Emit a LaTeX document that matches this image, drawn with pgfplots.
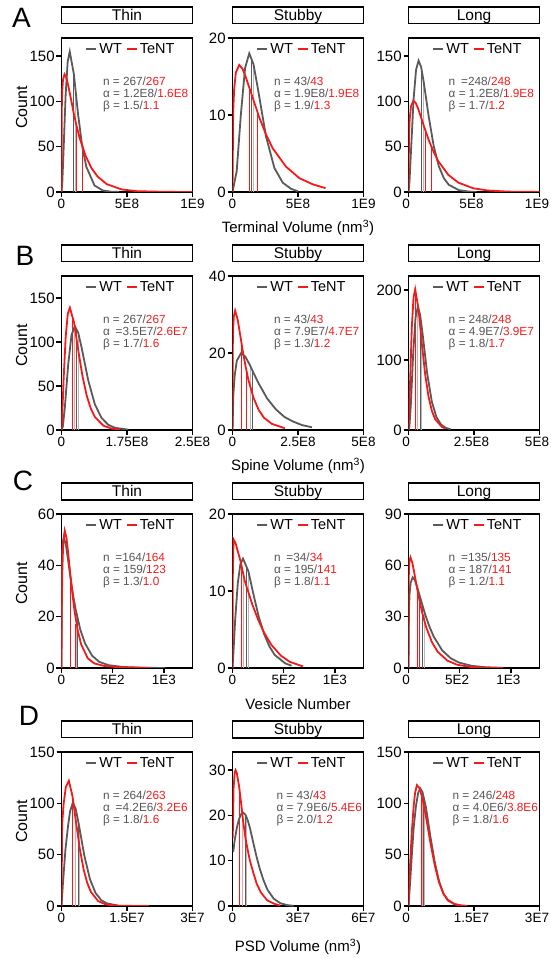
\documentclass[border=0pt]{standalone}
\usepackage{fontspec}
\setmainfont{Liberation Sans}
\usepackage{pgfplots}
\pgfplotsset{compat=1.18}

\definecolor{wtgray}{HTML}{5A5A5A}
\definecolor{tnred}{HTML}{F51A1A}
\definecolor{lgray}{HTML}{B8B8B8}
\definecolor{lred}{HTML}{F7A0A0}
\definecolor{anngray}{HTML}{555555}

\tikzset{
  ann/.style={anchor=north west, align=left, inner sep=0pt, text=anngray,
    font=\fontsize{11.8}{11.7}\selectfont},
  letter/.style={font=\fontsize{28}{28}\selectfont, inner sep=0pt},
}

\pgfplotsset{
  panel/.style={
    scale only axis, width=131pt, height=154pt, anchor=south west,
    xmin=0, ymin=0, enlargelimits=false,
    line width=1.8pt,
    axis line style={line width=1.8pt, black},
    tick align=outside, xtick pos=bottom, ytick pos=left,
    major tick length=5pt,
    tick style={black, line width=1.5pt},
    yticklabel style={inner sep=1pt, font=\fontsize{15}{15}\selectfont},
    xticklabel style={inner sep=1.5pt, font=\fontsize{13.5}{14}\selectfont},
    /pgf/number format/assume math mode=true,
    title style={draw, line width=1.6pt, minimum width=131pt, minimum height=16.5pt,
      inner sep=0pt, text height=11pt, text depth=1pt, anchor=south, at={(0.5,1)},
      yshift=7.5pt, font=\fontsize{15.5}{15.5}\selectfont},
    legend style={at={(0.53,0.985)}, anchor=north, draw=none, fill=none, inner sep=0pt,
      font=\fontsize{14.5}{15}\selectfont,
      /tikz/every even column/.append style={column sep=2pt}},
    legend columns=2,
    legend image code/.code={\draw[#1, line width=2pt] (0pt,0pt) -- (10pt,0pt);},
    label style={font=\fontsize{15}{16}\selectfont},
    xlabel style={at={(axis description cs:0.5,0)}, anchor=center, yshift=-36pt},
    ylabel style={at={(axis description cs:-0.305,0.55)}, anchor=center,
      font=\fontsize{16}{16}\selectfont},
  },
  right panel/.style={xticklabel style={xshift=-2.5pt}},
  wt/.style={wtgray, line width=1.8pt},
  tn/.style={tnred, line width=1.8pt},
  vl/.style={line width=1pt, forget plot},
}

\begin{document}
\begin{tikzpicture}
\useasboundingbox (0,0) rectangle (550pt,958pt);

\node[letter] at (21.5pt,940pt) {A};
\node[letter] at (25pt,702pt) {B};
\node[letter] at (23pt,477pt) {C};
\node[letter] at (29pt,242pt) {D};

% ---------------- row A: terminal volume ----------------
\begin{axis}[panel, at={(61.5pt,766pt)}, title={Thin}, ylabel={Count},
  xmax=10, ymax=170, xtick={0,5,10}, xticklabels={0,5E8,1E9}, ytick={0,50,100,150}]
\addplot[vl, wtgray] coordinates {(0.94,0)(0.94,130)};
\addplot[vl, lgray] coordinates {(1.04,0)(1.04,117)};
\addplot[vl, tnred] coordinates {(1.14,0)(1.14,74)};
\addplot[vl, tnred] coordinates {(1.62,0)(1.62,50)};
\addplot[wt] coordinates {(0,0)(0.063,10.8)(0.158,46)(0.315,107)(0.473,144)(0.63,155)(0.945,130)(1.26,86.5)(1.575,51)(1.89,28)(2.52,7.2)(3.15,1.7)(3.78,0.35)(4.4,0)};
\addlegendentry{WT}
\addplot[tn] coordinates {(0,0)(0.023,93)(0.058,112)(0.115,124)(0.23,130)(0.345,127)(0.46,121)(0.69,105)(0.92,88)(1.15,73)(1.38,60)(1.84,40)(2.3,26)(2.76,17)(3.45,8.7)(4.6,2.8)(5.75,0.9)(8,0.15)(10,0)};
\addlegendentry{TeNT}
\node[ann] at (rel axis cs:0.31,0.75) {n = 267/{\color{tnred}267}\\α = 1.2E8/{\color{tnred}1.6E8}\\β = 1.5/{\color{tnred}1.1}};
\end{axis}

\begin{axis}[panel, at={(232.5pt,766pt)}, title={Stubby}, xlabel={Terminal Volume (nm\textsuperscript{3})},
  xmax=10, ymax=20, xtick={0,5,10}, xticklabels={0,5E8,1E9}, ytick={0,10,20}]
\addplot[vl, tnred] coordinates {(1.28,0)(1.28,13.6)};
\addplot[vl, wtgray] coordinates {(1.44,0)(1.44,17.3)};
\addplot[vl, lgray] coordinates {(1.62,0)(1.62,16.5)};
\addplot[vl, tnred] coordinates {(1.87,0)(1.87,10.6)};
\addplot[wt] coordinates {(0,0)(0.32,2.7)(0.64,10.1)(0.96,16.1)(1.28,18)(1.6,16.6)(1.92,13.6)(2.56,7.2)(3.2,3.1)(3.84,1.2)(4.48,0.4)(5.0,0.1)};
\addlegendentry{WT}
\addplot[tn] coordinates {(0,0)(0.051,10.4)(0.128,13.4)(0.255,15.5)(0.51,16.5)(0.765,16)(1.02,14.9)(1.53,12.3)(2.04,9.7)(2.55,7.5)(3.06,5.7)(4.08,3.3)(5.1,1.8)(6.12,1.0)(7.1,0.5)};
\addlegendentry{TeNT}
\node[ann] at (rel axis cs:0.31,0.75) {n = 43/{\color{tnred}43}\\α = 1.9E8/{\color{tnred}1.9E8}\\β = 1.9/{\color{tnred}1.3}};
\end{axis}

\begin{axis}[panel, right panel, at={(408.5pt,766pt)}, title={Long},
  xmax=10, ymax=170, xtick={0,5,10}, xticklabels={0,5E8,1E9}, ytick={0,50,100,150}]
\addplot[vl, wtgray] coordinates {(0.97,0)(0.97,137)};
\addplot[vl, lgray] coordinates {(1.15,0)(1.15,122)};
\addplot[vl, tnred] coordinates {(1.31,0)(1.31,67)};
\addplot[vl, tnred] coordinates {(1.79,0)(1.79,48.7)};
\addplot[wt] coordinates {(0,0)(0.077,11.6)(0.193,46)(0.385,102)(0.578,135)(0.77,145)(0.963,138)(1.155,122)(1.54,83.5)(1.925,50.7)(2.31,28.6)(2.695,15.3)(3.08,7.9)(3.85,2.0)(4.62,0.45)(5.2,0)};
\addlegendentry{WT}
\addplot[tn] coordinates {(0,0)(0.038,62.7)(0.095,81.3)(0.19,94.6)(0.38,101)(0.57,97.8)(0.76,91)(1.14,74.3)(1.52,58.3)(1.9,44.8)(2.28,33.9)(3.04,18.9)(3.8,10.4)(4.94,4.1)(6.08,1.6)(7.6,0.4)(10,0.05)};
\addlegendentry{TeNT}
\node[ann] at (rel axis cs:0.30,0.75) {n\enspace=248/{\color{tnred}248}\\α = 1.2E8/{\color{tnred}1.9E8}\\β = 1.7/{\color{tnred}1.2}};
\end{axis}

% ---------------- row B: spine volume ----------------
\begin{axis}[panel, at={(61.5pt,528pt)}, title={Thin}, ylabel={Count},
  xmax=10, ymax=175, xtick={0,5,10}, xticklabels={0,1.75E8,2.5E8}, ytick={0,50,100,150}]
\addplot[vl, tnred] coordinates {(0.84,0)(0.84,128)};
\addplot[vl, lred] coordinates {(0.98,0)(0.98,121)};
\addplot[vl, wtgray] coordinates {(1.12,0)(1.12,115)};
\addplot[vl, lgray] coordinates {(1.3,0)(1.3,109)};
\addplot[wt] coordinates {(0,0)(0.102,4.1)(0.255,25.6)(0.51,74.2)(0.765,108)(1.02,118)(1.275,110.6)(1.53,94)(2.04,56.5)(2.55,29)(3.06,13.6)(3.57,5.9)(4.08,2.5)(5.1,0.4)};
\addlegendentry{WT}
\addplot[tn] coordinates {(0,0)(0.064,19.5)(0.16,57)(0.32,106)(0.48,132)(0.64,139)(0.96,122)(1.28,90.5)(1.6,61.4)(1.92,39.3)(2.24,24.2)(2.56,14.5)(3.2,4.9)(3.84,1.6)(4.48,0.5)};
\addlegendentry{TeNT}
\node[ann] at (rel axis cs:0.31,0.75) {n = 267/{\color{tnred}267}\\α\enspace=3.5E7/{\color{tnred}2.6E7}\\β = 1.7/{\color{tnred}1.6}};
\end{axis}

\begin{axis}[panel, at={(232.5pt,528pt)}, title={Stubby}, xlabel={Spine Volume (nm\textsuperscript{3})},
  xmax=10, ymax=40, xtick={0,5,10}, xticklabels={0,2.5E8,5E8}, ytick={0,20,40}]
\addplot[vl, tnred] coordinates {(0.72,0)(0.72,21.9)};
\addplot[vl, tnred] coordinates {(1.1,0)(1.1,14.8)};
\addplot[vl, lgray] coordinates {(1.41,0)(1.41,16.3)};
\addplot[vl, wtgray] coordinates {(1.56,0)(1.56,15.2)};
\addplot[wt] coordinates {(0,0)(0.066,9.2)(0.165,14.1)(0.33,18)(0.66,20)(0.99,19)(1.32,16.9)(1.65,14.5)(1.98,12.2)(2.64,8.2)(3.3,5.4)(3.96,3.4)(4.62,2.2)(5.28,1.3)(6.07,0.7)};
\addlegendentry{WT}
\addplot[tn] coordinates {(0,0)(0.02,21.4)(0.05,26.2)(0.1,29.5)(0.2,31)(0.4,28.6)(0.6,24.4)(0.8,20.2)(1.0,16.5)(1.2,13.2)(1.6,8.4)(2.0,5.2)(2.4,3.2)(3.0,1.6)(4.0,0.45)};
\addlegendentry{TeNT}
\node[ann] at (rel axis cs:0.31,0.75) {n = 43/{\color{tnred}43}\\α = 7.9E7/{\color{tnred}4.7E7}\\β = 1.3/{\color{tnred}1.2}};
\end{axis}

\begin{axis}[panel, right panel, at={(408.5pt,528pt)}, title={Long},
  xmax=10, ymax=220, xtick={0,5,10}, xticklabels={0,2.5E8,5E8}, ytick={0,100,200}]
\addplot[vl, tnred] coordinates {(0.53,0)(0.53,200)};
\addplot[vl, lred] coordinates {(0.69,0)(0.69,181)};
\addplot[vl, wtgray] coordinates {(0.89,0)(0.89,164)};
\addplot[vl, lgray] coordinates {(1.02,0)(1.02,145)};
\addplot[wt] coordinates {(0,0)(0.071,5.3)(0.178,35.9)(0.355,108.6)(0.533,160)(0.71,176)(0.888,164.5)(1.065,139)(1.42,81.7)(1.775,40.9)(2.13,18.5)(2.485,7.8)(2.84,3.1)(3.2,1.2)};
\addlegendentry{WT}
\addplot[tn] coordinates {(0,0)(0.051,21.3)(0.128,72.6)(0.255,147.6)(0.383,189)(0.51,201)(0.765,172.8)(1.02,123)(1.275,79)(1.53,47.5)(1.785,27.3)(2.04,15.2)(2.55,4.4)(2.8,2.3)};
\addlegendentry{TeNT}
\node[ann] at (rel axis cs:0.30,0.75) {n = 248/{\color{tnred}248}\\α = 4.9E7/{\color{tnred}3.9E7}\\β = 1.8/{\color{tnred}1.7}};
\end{axis}

% ---------------- row C: vesicle number ----------------
\begin{axis}[panel, at={(61.5pt,290pt)}, title={Thin}, ylabel={Count},
  xmax=1280, ymax=60, xtick={0,500,1000}, xticklabels={0,5E2,1E3}, ytick={0,20,40,60}]
\addplot[vl, tnred] coordinates {(90,0)(90,34.8)};
\addplot[vl, tnred] coordinates {(139,0)(139,17.3)};
\addplot[vl, lgray] coordinates {(145,0)(145,21.5)};
\addplot[vl, wtgray] coordinates {(152,0)(152,20.4)};
\addplot[wt] coordinates {(0,0)(2.3,35.9)(5.75,43.5)(11.5,48.6)(23,51)(46,47.2)(69,40.7)(92,34.1)(115,28)(138,22.9)(184,14.9)(230,9.6)(299,4.8)(368,2.4)(460,1.1)(598,0.4)(800,0.1)(1016,0)};
\addlegendentry{WT}
\addplot[tn] coordinates {(0,0)(3.2,24.7)(8,37.7)(16,48.1)(32,53.5)(48,50.8)(64,45.2)(96,32.6)(128,22)(160,14.4)(192,9.2)(256,3.8)(320,1.8)(416,0.8)(550,0.3)(855,0.05)};
\addlegendentry{TeNT}
\node[ann] at (rel axis cs:0.31,0.75) {n\enspace=164/{\color{tnred}164}\\α = 159/{\color{tnred}123}\\β = 1.3/{\color{tnred}1.0}};
\end{axis}

\begin{axis}[panel, at={(232.5pt,290pt)}, title={Stubby}, xlabel={Vesicle Number},
  xmax=1280, ymax=20, xtick={0,500,1000}, xticklabels={0,5E2,1E3}, ytick={0,10,20}]
\addplot[vl, tnred] coordinates {(86,0)(86,13.4)};
\addplot[vl, lred] coordinates {(109,0)(109,12)};
\addplot[vl, wtgray] coordinates {(132,0)(132,13.4)};
\addplot[vl, lgray] coordinates {(159,0)(159,12.4)};
\addplot[wt] coordinates {(0,0)(10.3,2.3)(25.8,6.2)(51.5,11.0)(77,13.5)(103,14.2)(154.5,12.6)(206,9.5)(257.5,6.6)(309,4.4)(360.5,2.8)(412,1.7)(515,0.6)(577,0.3)};
\addlegendentry{WT}
\addplot[tn] coordinates {(0,0)(3,12)(10,16.7)(30,16.2)(76,14)(120,11.3)(192,8.3)(250,6.3)(308,4.6)(380,3.0)(473,1.6)(560,0.8)(689,0.2)};
\addlegendentry{TeNT}
\node[ann] at (rel axis cs:0.31,0.75) {n\enspace=34/{\color{tnred}34}\\α = 195/{\color{tnred}141}\\β = 1.8/{\color{tnred}1.1}};
\end{axis}

\begin{axis}[panel, right panel, at={(408.5pt,290pt)}, title={Long},
  xmax=1280, ymax=90, xtick={0,500,1000}, xticklabels={0,5E2,1E3}, ytick={0,30,60,90}]
\addplot[vl, tnred] coordinates {(89,0)(89,45)};
\addplot[vl, tnred] coordinates {(111,0)(111,38.6)};
\addplot[vl, wtgray] coordinates {(136,0)(136,36.8)};
\addplot[vl, lgray] coordinates {(161,0)(161,31.7)};
\addplot[wt] coordinates {(0,0)(4.1,33.4)(10.25,43)(20.5,49.7)(41,53)(61.5,51.4)(82,47.9)(123,39.4)(164,31.1)(205,24.1)(246,18.4)(328,10.4)(410,5.8)(492,3.2)(615,1.3)(738,0.5)(861,0.2)};
\addlegendentry{WT}
\addplot[tn] coordinates {(0,0)(1.9,51)(4.75,58)(9.5,62.6)(19,64.7)(38,61.4)(57,55.5)(76,49.2)(95,43.1)(133,32.5)(171,24.1)(228,15.2)(285,9.5)(380,4.3)(475,1.9)(608,0.6)(760,0.16)(927,0.05)};
\addlegendentry{TeNT}
\node[ann] at (rel axis cs:0.30,0.75) {n\enspace=135/{\color{tnred}135}\\α = 187/{\color{tnred}141}\\β = 1.2/{\color{tnred}1.1}};
\end{axis}

% ---------------- row D: PSD volume ----------------
\begin{axis}[panel, at={(61.5pt,52pt)}, title={Thin}, ylabel={Count},
  xmax=30, ymax=150, xtick={0,15,30}, xticklabels={0,1.5E7,3E7}, ytick={0,50,100,150}]
\addplot[vl, tnred] coordinates {(2.6,0)(2.6,105)};
\addplot[vl, lred] coordinates {(3.2,0)(3.2,85.6)};
\addplot[vl, wtgray] coordinates {(3.8,0)(3.8,83)};
\addplot[vl, lgray] coordinates {(4.2,0)(4.2,73.8)};
\addplot[wt] coordinates {(0,0)(0.3,20)(0.9,55)(1.5,78)(1.95,92)(2.6,100.6)(3.25,94.6)(3.9,81)(5.2,49.7)(6.5,26.3)(7.8,12.7)(9.1,5.7)(10.4,2.5)(13,0.4)};
\addlegendentry{WT}
\addplot[tn] coordinates {(0,0)(0.15,80)(0.5,100)(1.0,116)(1.68,122)(2.52,107)(3.36,80.6)(4.2,55.5)(5.04,36.1)(5.88,22.7)(6.72,13.8)(8.4,4.8)(10.08,1.6)(11.76,0.5)(14,0.15)(20,0)};
\addlegendentry{TeNT}
\node[ann] at (rel axis cs:0.31,0.75) {n = 264/{\color{tnred}263}\\α\enspace=4.2E6/{\color{tnred}3.2E6}\\β = 1.8/{\color{tnred}1.6}};
\end{axis}

\begin{axis}[panel, at={(232.5pt,52pt)}, title={Stubby}, xlabel={PSD Volume (nm\textsuperscript{3})},
  xlabel style={yshift=-5pt},
  xmax=60, ymax=34, xtick={0,30,60}, xticklabels={0,3E7,6E7}, ytick={0,10,20,30}]
\addplot[vl, tnred] coordinates {(3.4,0)(3.4,24.9)};
\addplot[vl, lred] coordinates {(4.6,0)(4.6,19.8)};
\addplot[vl, wtgray] coordinates {(6.0,0)(6.0,20.1)};
\addplot[vl, lgray] coordinates {(6.6,0)(6.6,19.4)};
\addplot[wt] coordinates {(0.3,11.9)(1,14.5)(2,17.3)(3,19.2)(4,20.3)(4.9,20.6)(6,20.1)(7,18.9)(8,17.2)(9.6,13.8)(11,10.9)(12.5,8.2)(14.2,5.7)(16,3.6)(18.9,1.6)(22,0.6)(25,0.2)(28,0.05)};
\addlegendentry{WT}
\addplot[tn] coordinates {(0.1,15)(0.5,26)(1,29.5)(1.4,30)(2,29.3)(3,26.5)(4,22.5)(4.9,18.6)(6,14.8)(7,12.3)(8,10)(9.5,7.4)(11.1,4.9)(13,3.0)(15.8,1.3)(19,0.5)(22,0.1)};
\addlegendentry{TeNT}
\node[ann] at (rel axis cs:0.33,0.75) {n = 43/{\color{tnred}43}\\α = 7.9E6/{\color{tnred}5.4E6}\\β = 2.0/{\color{tnred}1.2}};
\end{axis}

\begin{axis}[panel, right panel, at={(408.5pt,52pt)}, title={Long},
  xmax=30, ymax=150, xtick={0,15,30}, xticklabels={0,1.5E7,3E7}, ytick={0,50,100,150}]
\addplot[vl, tnred] coordinates {(2.9,0)(2.9,109)};
\addplot[vl, lred] coordinates {(3.2,0)(3.2,105)};
\addplot[vl, wtgray] coordinates {(3.5,0)(3.5,105)};
\addplot[vl, lgray] coordinates {(3.7,0)(3.7,102)};
\addplot[wt] coordinates {(0,0)(0.4,25)(0.8,52)(1.2,77)(1.7,97)(2.2,110)(2.7,114.5)(3.2,111)(4,96)(5,68)(6,43)(7,24)(8,12)(9,5.5)(10.5,1.7)(12,0.4)(13,0.1)};
\addlegendentry{WT}
\addplot[tn] coordinates {(0,0)(0.3,35)(0.77,73)(1.2,98)(1.5,110)(1.92,117.7)(2.5,115)(3.2,105)(4,87)(5,62)(6,40)(7,23)(8,12)(9,6)(10.5,2)(12,0.6)(13.5,0.1)};
\addlegendentry{TeNT}
\node[ann] at (rel axis cs:0.33,0.75) {n = 246/{\color{tnred}248}\\α = 4.0E6/{\color{tnred}3.8E6}\\β = 1.8/{\color{tnred}1.6}};
\end{axis}
\end{tikzpicture}
\end{document}
